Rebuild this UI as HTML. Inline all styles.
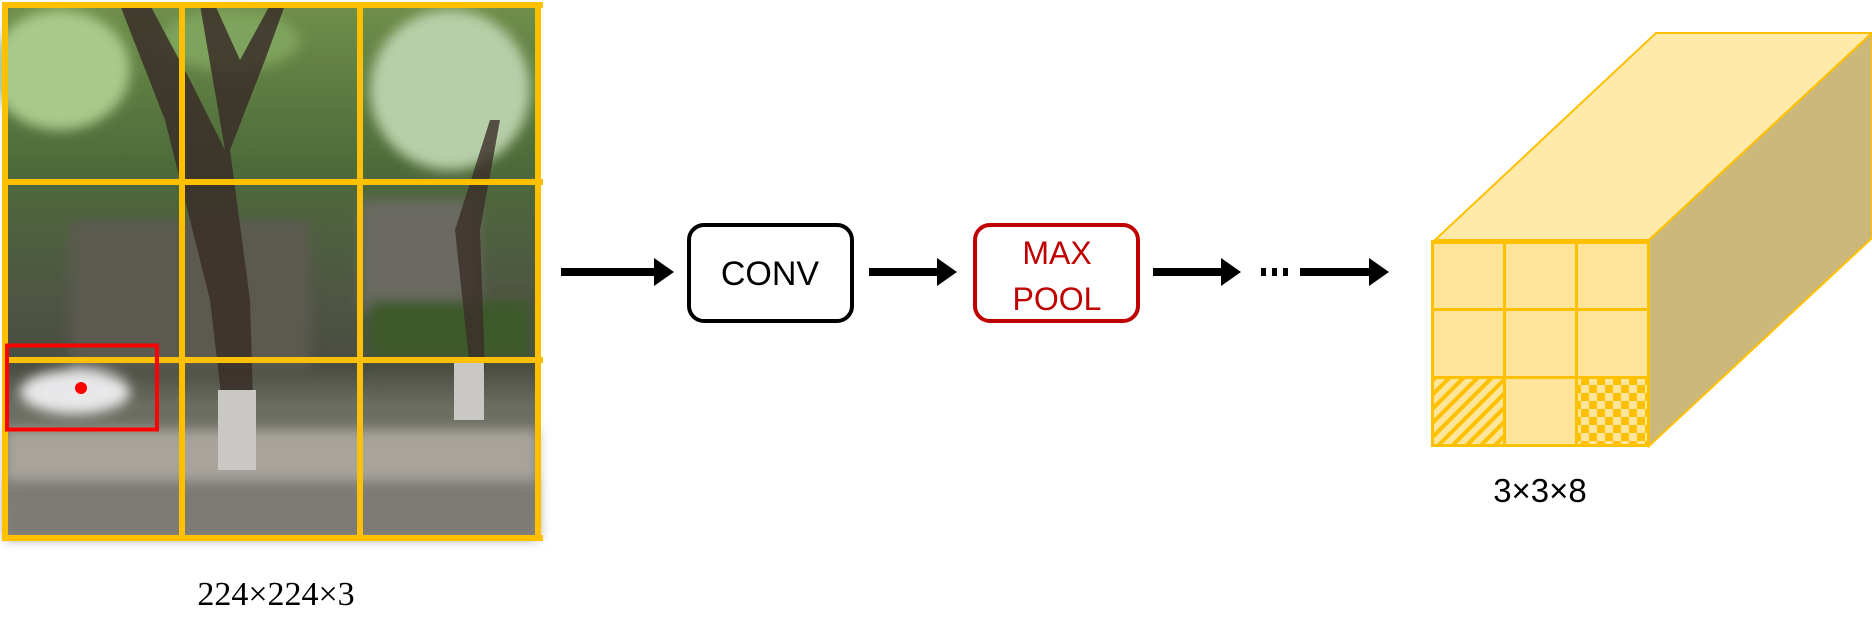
<!DOCTYPE html>
<html><head><meta charset="utf-8"><style>
html,body{margin:0;padding:0;background:#fff;}
body{width:1872px;height:622px;overflow:hidden;position:relative;}
</style></head><body>
<svg width="1872" height="622" viewBox="0 0 1872 622" xmlns="http://www.w3.org/2000/svg" style="position:absolute;left:0;top:0">
<defs>
 <linearGradient id="sky" x1="0" y1="0" x2="0" y2="1">
  <stop offset="0" stop-color="#6f8f4a"/>
  <stop offset="0.3" stop-color="#4d6b3a"/>
  <stop offset="0.55" stop-color="#4f5542"/>
  <stop offset="0.68" stop-color="#4a4d42"/>
  <stop offset="0.75" stop-color="#6a6c60"/>
  <stop offset="1" stop-color="#8d8a84"/>
 </linearGradient>
 <filter id="bl"><feGaussianBlur stdDeviation="6"/></filter>
 <pattern id="hatch" width="10" height="10" patternUnits="userSpaceOnUse" patternTransform="rotate(45)">
  <rect width="10" height="10" fill="#fde59a"/><rect width="4" height="10" fill="#ffc000"/>
 </pattern>
 <pattern id="check" width="16" height="16" patternUnits="userSpaceOnUse" x="1565" y="409">
  <rect width="16" height="16" fill="#fde59a"/><rect width="8" height="8" fill="#ffc000"/><rect x="8" y="8" width="8" height="8" fill="#ffc000"/>
 </pattern>
</defs>
<!-- photo approximation -->
<g>
 <rect x="5" y="5" width="533" height="533" fill="url(#sky)"/>
 <g filter="url(#bl)">
  <ellipse cx="60" cy="70" rx="70" ry="60" fill="#a9c98a"/>
  <ellipse cx="450" cy="90" rx="80" ry="80" fill="#b7cfa8"/>
  <ellipse cx="230" cy="40" rx="70" ry="30" fill="#7ea35c"/>
  <rect x="70" y="220" width="240" height="150" fill="#5c5a50"/>
  <rect x="360" y="200" width="120" height="110" fill="#6a6a62"/>
  <rect x="370" y="300" width="160" height="60" fill="#3e5a2c"/>
  <rect x="5" y="430" width="533" height="70" fill="#a8a49c"/>
  <rect x="5" y="480" width="533" height="58" fill="#7d7a74"/>
  <ellipse cx="75" cy="392" rx="55" ry="22" fill="#e8e8ea"/>
 </g>
 <path d="M120 5 L165 120 L210 300 L230 470 L255 470 L250 300 L230 150 L265 60 L285 5 L270 5 L240 60 L215 5 L200 5 L225 150 L190 80 L150 5Z" fill="#3a2e28" opacity="0.85"/>
 <rect x="218" y="390" width="38" height="80" fill="#c9c8c4"/>
 <path d="M455 230 L470 370 L485 370 L480 230 L500 120 L490 120 Z" fill="#3a2e28" opacity="0.8"/>
 <rect x="454" y="360" width="30" height="60" fill="#c9c8c4"/>
</g>
<!-- grid -->
<g fill="#ffc000">
 <rect x="2" y="2" width="541" height="6"/>
 <rect x="2" y="535" width="541" height="6"/>
 <rect x="2" y="2" width="6" height="539"/>
 <rect x="535" y="2" width="6" height="539"/>
 <rect x="179" y="2" width="6" height="539"/>
 <rect x="357" y="2" width="6" height="539"/>
 <rect x="2" y="179" width="541" height="6"/>
 <rect x="2" y="357" width="541" height="6"/>
</g>
<rect x="7" y="345.5" width="150" height="84" fill="none" stroke="#ff0000" stroke-width="4"/>
<circle cx="81" cy="388" r="6" fill="#ff0000"/>
<text x="276" y="605" font-family="Liberation Serif, serif" font-size="34" text-anchor="middle" fill="#000">224×224×3</text>

<!-- arrows -->
<g fill="#000">
 <rect x="561" y="268" width="96" height="8"/><polygon points="654,258 674,272 654,286"/>
 <rect x="869" y="268" width="70" height="8"/><polygon points="937,258 957,272 937,286"/>
 <rect x="1153" y="268" width="70" height="8"/><polygon points="1221,258 1241,272 1221,286"/>
 <rect x="1300" y="268" width="71" height="8"/><polygon points="1369,258 1389,272 1369,286"/>
 <rect x="1261" y="268" width="5" height="8"/><rect x="1272" y="268" width="5" height="8"/><rect x="1283" y="268" width="5" height="8"/>
</g>
<rect x="689" y="225" width="163" height="96" rx="15" fill="#fff" stroke="#000" stroke-width="4"/>
<text x="770" y="285" font-family="Liberation Sans, sans-serif" font-size="34" text-anchor="middle" fill="#000">CONV</text>
<rect x="975" y="225" width="163" height="96" rx="15" fill="#fff" stroke="#c00000" stroke-width="4"/>
<text x="1057" y="264" font-family="Liberation Sans, sans-serif" font-size="32" text-anchor="middle" fill="#c00000">MAX</text>
<text x="1057" y="310" font-family="Liberation Sans, sans-serif" font-size="32" text-anchor="middle" fill="#c00000">POOL</text>

<!-- cube -->
<polygon points="1435,240 1656,33 1872,33 1872,33 1649,240" fill="#ffeaaa" stroke="#ffc000" stroke-width="2"/>
<polygon points="1649,240 1872,33 1872,238 1649,446" fill="#ccb87a" stroke="#ffc000" stroke-width="2"/>
<rect x="1433" y="242" width="215" height="203" fill="#fde498"/>
<rect x="1433" y="378" width="70" height="67" fill="url(#hatch)"/>
<rect x="1577" y="378" width="71" height="67" fill="url(#check)"/>
<g fill="#ffc000">
 <rect x="1431" y="240" width="219" height="4"/>
 <rect x="1431" y="444" width="219" height="3"/>
 <rect x="1431" y="240" width="3" height="207"/>
 <rect x="1647" y="240" width="3" height="207"/>
 <rect x="1503" y="240" width="3" height="207"/>
 <rect x="1575" y="240" width="3" height="207"/>
 <rect x="1431" y="308" width="219" height="3"/>
 <rect x="1431" y="376" width="219" height="3"/>
</g>
<text x="1540" y="502" font-family="Liberation Sans, sans-serif" font-size="33" text-anchor="middle" fill="#000">3×3×8</text>
</svg>
</body></html>
